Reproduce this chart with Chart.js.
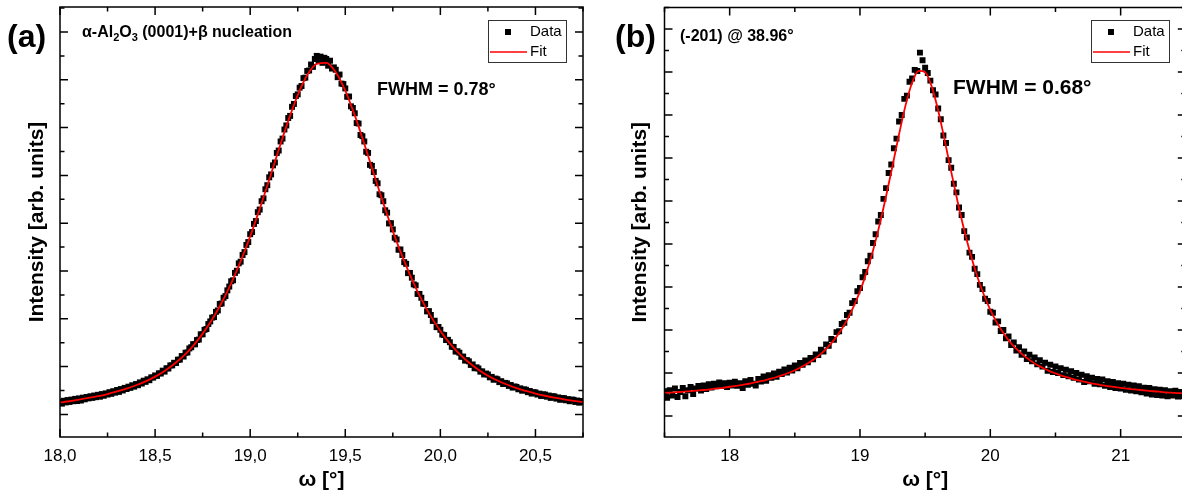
<!DOCTYPE html>
<html>
<head>
<meta charset="utf-8">
<script src="https://cdn.jsdelivr.net/npm/chart.js@4.4.1/dist/chart.umd.min.js"></script>
<style>
  body { margin: 0; background: #fff; overflow: hidden; }
  #wrap { position: relative; width: 1182px; height: 493px; overflow: hidden; }
  canvas { position: absolute; top: 0; }
  #chartA { left: 0; }
  #chartB { left: 600px; }
</style>
</head>
<body>
<div id="wrap">
  <canvas id="chartA" width="600" height="493"></canvas>
  <canvas id="chartB" width="590" height="493"></canvas>
</div>
<script>
const FONT = '"Liberation Sans", Arial, Helvetica, sans-serif';

// ---- panel (a): omega scan, alpha-Al2O3 (0001) + beta nucleation
const aStart = 18.0;
const aDataStep = 0.01;
const aFitStep = 0.05;
const aData = [
  0.52,0.45,0.57,0.50,0.60, 0.52,0.62,0.55,0.65,0.56,
  0.67,0.58,0.70,0.63,0.73, 0.67,0.76,0.69,0.79,0.72,
  0.82,0.74,0.85,0.78,0.88, 0.83,0.93,0.86,0.97,0.91,
  1.02,0.94,1.06,1.00,1.11, 1.06,1.16,1.11,1.22,1.16,
  1.27,1.22,1.34,1.29,1.41, 1.36,1.47,1.43,1.55,1.54,
  1.63,1.61,1.72,1.71,1.83, 1.79,1.93,1.92,2.05,2.05,
  2.16,2.15,2.29,2.29,2.44, 2.42,2.58,2.59,2.76,2.81,
  2.94,2.93,3.11,3.13,3.35, 3.35,3.54,3.57,3.78,3.89,
  4.05,4.07,4.29,4.35,4.62, 4.64,4.88,4.95,5.19,5.35,
  5.57,5.61,5.92,6.01,6.32, 6.39,6.67,6.79,7.09,7.21,
  7.54,7.63,7.97,8.09,8.46, 8.57,8.92,9.04,9.42,9.59,
  9.92,10.04,10.42,10.54,10.94, 11.04,11.42,11.54,11.92,12.09,
  12.40,12.49,12.87,12.99,13.32, 13.39,13.67,13.74,14.07,14.09,
  14.37,14.39,14.64,14.54,14.87, 15.00,14.79,14.97,14.71,14.92,
  14.87,14.59,14.80,14.47,14.52, 14.42,14.11,14.22,13.84,13.82,
  13.64,13.29,13.30,12.89,12.82, 12.60,12.19,12.17,11.69,11.64,
  11.42,10.99,10.94,10.44,10.40, 10.14,9.77,9.67,9.21,9.17,
  8.92,8.54,8.44,7.99,8.00, 7.74,7.39,7.32,6.89,6.90,
  6.67,6.37,6.30,5.91,5.92, 5.72,5.44,5.40,5.04,5.04,
  4.88,4.63,4.62,4.31,4.32, 4.16,3.91,3.92,3.65,3.66,
  3.54,3.34,3.32,3.11,3.12, 3.02,2.83,2.82,2.63,2.64,
  2.58,2.41,2.42,2.25,2.27, 2.22,2.07,2.09,1.93,1.97,
  1.92,1.79,1.80,1.67,1.71, 1.67,1.55,1.57,1.45,1.50,
  1.47,1.35,1.39,1.27,1.32, 1.30,1.19,1.23,1.12,1.17,
  1.15,1.05,1.09,0.99,1.05, 1.03,0.93,0.98,0.87,0.93,
  0.92,0.83,0.87,0.77,0.84, 0.83,0.74,0.79,0.69,0.76,
  0.75,0.66,0.71,0.61,0.68, 0.68,0.59,0.64,0.55,0.62,
  0.61,0.52,0.58,0.49,0.56, 0.52
];
const aFit = [
  0.50,0.55,0.62,0.69,0.76,0.85,0.96,1.08,1.22,1.38,
  1.58,1.82,2.11,2.45,2.87,3.38,3.97,4.67,5.48,6.41,
  7.45,8.60,9.82,11.07,12.28,13.36,14.20,14.67,14.71,14.32,
  13.55,12.51,11.32,10.07,8.84,7.67,6.61,5.66,4.82,4.10,
  3.49,2.97,2.53,2.17,1.87,1.62,1.42,1.25,1.10,0.98,
  0.87,0.78,0.70,0.63,0.57,0.51
];
const aTicks = [18.0, 18.5, 19.0, 19.5, 20.0, 20.5];

// ---- panel (b): (-201) @ 38.96°
const bStart = 17.5;
const bDataStep = 0.02;
const bFitStep = 0.05;
const bData = [
  1.15,0.85,1.20,0.95,1.28,0.88,1.12,1.30,0.92,1.20,
  1.35,1.02,1.28,1.40,1.18,1.42,1.25,1.48,1.32,1.50,
  1.38,1.56,1.40,1.52,1.35,1.55,1.42,1.60,1.40,1.52,
  1.30,1.62,1.45,1.68,1.50,1.42,1.72,1.60,1.84,1.64,
  1.90,1.78,1.98,1.82,2.06,1.95,2.16,2.02,2.25,2.12,
  2.35,2.22,2.47,2.38,2.58,2.50,2.70,2.64,2.86,2.84,
  3.08,3.00,3.33,3.27,3.58,3.54,3.90,3.94,4.28,4.34,
  4.70,4.80,5.25,5.35,5.80,5.95,6.45,6.70,7.20,7.45,
  8.05,8.45,9.05,9.35,10.10,10.60,11.30,11.70,12.45,12.90,
  13.70,14.00,14.75,14.90,15.55,15.70,16.10,16.05,16.90,16.55,
  16.20,15.95,15.60,15.15,14.95,14.30,13.80,13.05,12.70,11.90,
  11.55,10.80,10.40,9.70,9.35,8.60,8.30,7.60,7.40,6.85,
  6.60,6.10,5.90,5.45,5.35,4.85,4.80,4.35,4.40,3.95,
  4.00,3.62,3.70,3.30,3.42,3.05,3.20,2.85,3.00,2.65,
  2.85,2.55,2.72,2.40,2.60,2.30,2.48,2.10,2.38,2.05,
  2.30,2.00,2.22,1.90,2.15,1.85,2.08,1.78,2.00,1.70,
  1.92,1.58,1.85,1.62,1.78,1.50,1.72,1.48,1.70,1.40,
  1.62,1.35,1.58,1.30,1.52,1.28,1.50,1.22,1.45,1.18,
  1.42,1.15,1.38,1.10,1.32,1.05,1.30,1.00,1.25,0.98,
  1.22,0.95,1.20,0.92,1.15,0.95,1.18,0.90,1.12,0.92,
  1.10
];
const bFit = [
  1.07,1.09,1.11,1.13,1.16,1.18,1.21,1.24,1.28,1.31,
  1.36,1.40,1.45,1.50,1.57,1.63,1.71,1.79,1.89,2.00,
  2.13,2.28,2.45,2.65,2.89,3.18,3.53,3.95,4.46,5.07,
  5.80,6.68,7.70,8.89,10.22,11.65,13.11,14.46,15.50,16.05,
  15.99,15.33,14.21,12.82,11.36,9.94,8.64,7.49,6.49,5.65,
  4.94,4.35,3.86,3.45,3.12,2.84,2.61,2.41,2.25,2.10,
  1.98,1.87,1.78,1.69,1.62,1.55,1.49,1.44,1.39,1.35,
  1.31,1.27,1.24,1.21,1.18,1.15,1.13,1.10,1.08,1.06,
  1.05
];
const bTicks = [18, 19, 20, 21];

const toPoints = (arr, start, step) =>
  arr.map((v, i) => ({ x: +(start + i * step).toFixed(3), y: v }));

// box frame with inward ticks on all four sides
const framePlugin = {
  id: 'frame',
  afterDatasetsDraw(chart, args, o) {
    const { ctx, chartArea: a } = chart;
    const xs = chart.scales.x, ys = chart.scales.y;
    ctx.save();
    ctx.strokeStyle = '#000';
    ctx.lineWidth = 1.5;
    ctx.beginPath();
    for (let k = 0; ; k++) {
      const v = o.xFrom + k * o.xMinor;
      if (v > xs.max + 1e-6) break;
      const px = xs.getPixelForValue(v);
      const r = v / o.xMajor;
      const len = Math.abs(r - Math.round(r)) < 1e-6 ? 8 : 4.5;
      ctx.moveTo(px, a.bottom); ctx.lineTo(px, a.bottom - len);
      ctx.moveTo(px, a.top); ctx.lineTo(px, a.top + len);
    }
    for (let v = Math.ceil(ys.min); v <= ys.max; v++) {
      const py = ys.getPixelForValue(v);
      const len = v % 2 === 0 ? 8 : 4.5;
      ctx.moveTo(a.left, py); ctx.lineTo(a.left + len, py);
      ctx.moveTo(a.right, py); ctx.lineTo(a.right - len, py);
    }
    ctx.stroke();
    ctx.strokeRect(a.left, a.top, a.right - a.left, a.bottom - a.top);
    ctx.restore();
  }
};

// panel letter, sample label, FWHM note and the boxed legend
const notesPlugin = {
  id: 'notes',
  afterDraw(chart, args, o) {
    const ctx = chart.ctx;
    ctx.save();
    ctx.fillStyle = '#000';
    ctx.textBaseline = 'middle';
    ctx.font = `bold 32px ${FONT}`;
    ctx.fillText(o.letter, o.letterX, o.letterY);

    let x = o.labelX;
    o.label.forEach(p => {
      ctx.font = p.sub ? `bold 11px ${FONT}` : `bold 16px ${FONT}`;
      ctx.fillText(p.t, x, o.labelY + (p.sub ? 5 : 0));
      x += ctx.measureText(p.t).width;
    });

    ctx.font = `bold ${o.fwhmSize}px ${FONT}`;
    ctx.fillText(o.fwhm, o.fwhmX, o.fwhmY);

    const L = o.legend;
    ctx.lineWidth = 1;
    ctx.strokeStyle = '#333';
    ctx.strokeRect(L.x + 0.5, L.y + 0.5, 78, 42);
    ctx.fillRect(L.x + 17, L.y + 9, 6, 6);
    ctx.strokeStyle = 'red';
    ctx.lineWidth = 1.5;
    ctx.beginPath();
    ctx.moveTo(L.x + 2, L.y + 32);
    ctx.lineTo(L.x + 39, L.y + 32);
    ctx.stroke();
    ctx.font = `15px ${FONT}`;
    ctx.fillText('Data', L.x + 42, L.y + 12);
    ctx.fillText('Fit', L.x + 42, L.y + 32);
    ctx.restore();
  }
};

function makeChart(id, cfg) {
  return new Chart(document.getElementById(id), {
    type: 'scatter',
    data: {
      datasets: [
        {
          label: 'Fit',
          data: cfg.fit,
          showLine: true,
          borderColor: '#ff0000',
          borderWidth: 1.8,
          pointRadius: 0,
          cubicInterpolationMode: 'monotone'
        },
        {
          label: 'Data',
          data: cfg.data,
          showLine: false,
          pointStyle: 'rect',
          pointRadius: 4.2,
          backgroundColor: '#000',
          borderColor: '#000',
          borderWidth: 0
        }
      ]
    },
    options: {
      responsive: false,
      animation: false,
      events: [],
      layout: { padding: cfg.padding },
      plugins: {
        legend: { display: false },
        tooltip: { enabled: false },
        frame: cfg.frame,
        notes: cfg.notes
      },
      scales: {
        x: {
          type: 'linear',
          min: cfg.xMin,
          max: cfg.xMax,
          grid: { display: false, drawTicks: false },
          border: { display: false },
          afterBuildTicks: ax => { ax.ticks = cfg.ticks.map(v => ({ value: v })); },
          ticks: {
            color: '#000',
            font: { family: FONT, size: 17 },
            padding: 9,
            autoSkip: false,
            maxRotation: 0,
            callback: cfg.fmt
          },
          title: {
            display: true,
            text: 'ω [°]',
            color: '#000',
            font: { family: FONT, size: 21, weight: 'bold' },
            padding: { top: 0, bottom: 0 }
          },
          afterFit: s => { s.height = 56; }
        },
        y: {
          type: 'linear',
          min: cfg.yMin,
          max: cfg.yMax,
          grid: { display: false, drawTicks: false },
          border: { display: false },
          ticks: { display: false },
          title: {
            display: true,
            text: 'Intensity [arb. units]',
            color: '#000',
            font: { family: FONT, size: 21, weight: 'bold' },
            padding: { top: cfg.yTitlePad, bottom: 0 }
          },
          afterFit: s => { s.width = cfg.yWidth; }
        }
      }
    },
    plugins: [framePlugin, notesPlugin]
  });
}

makeChart('chartA', {
  data: toPoints(aData, aStart, aDataStep),
  fit: toPoints(aFit, aStart, aFitStep),
  ticks: aTicks,
  fmt: v => v.toFixed(1).replace('.', ','),
  xMin: 18.0, xMax: 20.75,
  yMin: -0.946, yMax: 17.046,
  padding: { top: 7, right: 17, left: 0, bottom: 0 },
  yWidth: 60,
  yTitlePad: 25,
  frame: { xFrom: 18.0, xMinor: 0.25, xMajor: 0.5 },
  notes: {
    letter: '(a)', letterX: 7, letterY: 38,
    label: [{ t: 'α-Al' }, { t: '2', sub: true }, { t: 'O' }, { t: '3', sub: true }, { t: ' (0001)+β nucleation' }],
    labelX: 82, labelY: 33,
    fwhm: 'FWHM = 0.78°', fwhmSize: 18, fwhmX: 377, fwhmY: 90,
    legend: { x: 488, y: 20 }
  }
});

makeChart('chartB', {
  data: toPoints(bData, bStart, bDataStep),
  fit: toPoints(bFit, bStart, bFitStep),
  ticks: bTicks,
  fmt: v => String(v),
  xMin: 17.5, xMax: 21.5,
  yMin: -0.977, yMax: 19.0,
  padding: { top: 7.5, right: 4, left: 0, bottom: 0 },
  yWidth: 64.5,
  yTitlePad: 28,
  frame: { xFrom: 17.5, xMinor: 0.5, xMajor: 1 },
  notes: {
    letter: '(b)', letterX: 15, letterY: 38,
    label: [{ t: '(-201) @ 38.96°' }],
    labelX: 80, labelY: 37,
    fwhm: 'FWHM = 0.68°', fwhmSize: 21, fwhmX: 353, fwhmY: 88,
    legend: { x: 491, y: 20 }
  }
});
</script>
</body>
</html>
